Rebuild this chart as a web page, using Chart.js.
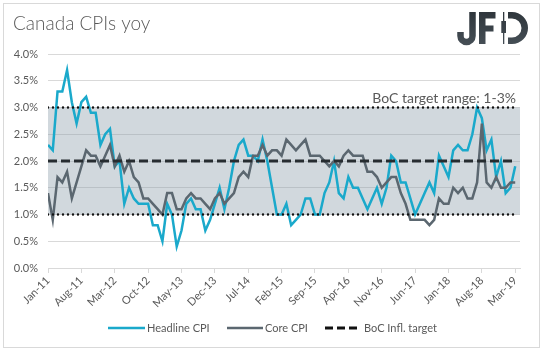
<!DOCTYPE html>
<html>
<head>
<meta charset="utf-8">
<script src="https://cdn.jsdelivr.net/npm/chart.js@4.4.0/dist/chart.umd.min.js"></script>
<style>
  html, body { margin: 0; padding: 0; background: #fff; }
  #wrap { width: 543px; height: 351px; }
</style>
</head>
<body>
<div id="wrap"><canvas id="myChart" width="543" height="351"></canvas></div>
<script>
// monthly labels Jan-11 .. Mar-19
var monthNames = ["Jan", "Feb", "Mar", "Apr", "May", "Jun", "Jul", "Aug", "Sep", "Oct", "Nov", "Dec"];
var months = [];
for (var yr = 11; yr <= 19; yr++) {
    for (var m = 0; m < 12; m++) {
        if (yr === 19 && m > 2) break;
        months.push(monthNames[m] + "-" + yr);
    }
}

// every 7th month gets a tick label
var tickIdx = [0, 7, 14, 21, 28, 35, 42, 49, 56, 63, 70, 77, 84, 91, 98];

// Headline CPI, % yoy
var headline = [
    2.3, 2.2, 3.3, 3.3, 3.7, 3.1, 2.7, 3.1, 3.2, 2.9, 2.9, 2.3,
    2.5, 2.6, 1.9, 2.0, 1.2, 1.5, 1.3, 1.2, 1.2, 1.2, 0.8, 0.8,
    0.5, 1.2, 1.0, 0.4, 0.7, 1.2, 1.3, 1.1, 1.1, 0.7, 0.9, 1.2,
    1.5, 1.1, 1.5, 2.0, 2.3, 2.4, 2.1, 2.1, 2.0, 2.4, 2.0, 1.5,
    1.0, 1.0, 1.2, 0.8, 0.9, 1.0, 1.3, 1.3, 1.0, 1.0, 1.4, 1.6,
    2.0, 1.4, 1.3, 1.7, 1.5, 1.5, 1.3, 1.1, 1.3, 1.5, 1.2, 1.5,
    2.1, 2.0, 1.6, 1.6, 1.3, 1.0, 1.2, 1.4, 1.6, 1.4, 2.1, 1.9,
    1.7, 2.2, 2.3, 2.2, 2.2, 2.5, 3.0, 2.8, 2.2, 2.4, 1.7, 2.0,
    1.4, 1.5, 1.9
];

// Core CPI, % yoy
var core = [
    1.4, 0.9, 1.7, 1.6, 1.8, 1.3, 1.6, 1.9, 2.2, 2.1, 2.1, 1.9,
    2.1, 2.3, 1.9, 2.1, 1.8, 2.0, 1.7, 1.6, 1.3, 1.3, 1.2, 1.1,
    1.0, 1.4, 1.4, 1.1, 1.1, 1.3, 1.4, 1.3, 1.3, 1.2, 1.1, 1.3,
    1.4, 1.2, 1.3, 1.4, 1.7, 1.8, 1.7, 2.1, 2.1, 2.3, 2.1, 2.2,
    2.2, 2.1, 2.4, 2.3, 2.2, 2.3, 2.4, 2.1, 2.1, 2.1, 2.0, 1.9,
    2.0, 1.9, 2.1, 2.2, 2.1, 2.1, 2.1, 1.8, 1.8, 1.7, 1.5, 1.6,
    1.7, 1.7, 1.4, 1.2, 0.9, 0.9, 0.9, 0.9, 0.8, 0.9, 1.3, 1.2,
    1.2, 1.5, 1.4, 1.5, 1.3, 1.3, 1.6, 2.7, 1.6, 1.5, 1.7, 1.5,
    1.5, 1.6, 1.6
];

// BoC inflation target and range
var target = 2.0;
var targetLow = 1.0;
var targetHigh = 3.0;

var fontFamily = "Lato, 'Open Sans', sans-serif";
var textColor = "#595959";

function points(values) {
    return values.map(function (v, i) { return { x: i, y: v }; });
}
function flat(value) {
    return months.map(function (_, i) { return { x: i, y: value }; });
}

// grey band between the range limits, drawn over the gridlines
var bandPlugin = {
    id: "band",
    beforeDatasetsDraw: function (chart) {
        var ctx = chart.ctx, a = chart.chartArea, y = chart.scales.y;
        var top = y.getPixelForValue(targetHigh);
        var bottom = y.getPixelForValue(targetLow);
        ctx.save();
        ctx.fillStyle = "rgba(140, 158, 170, 0.4)";
        ctx.fillRect(a.left, top, a.right - a.left, bottom - top);
        ctx.restore();
    }
};

// JFD logo, drawn as plain shapes
function drawLogo(ctx) {
    var grad = ctx.createLinearGradient(0, 12, 0, 44);
    grad.addColorStop(0, "#2F363C");
    grad.addColorStop(1, "#454E55");
    ctx.save();
    ctx.strokeStyle = grad;
    ctx.fillStyle = grad;
    ctx.lineWidth = 6.5;
    ctx.lineCap = "butt";
    // J
    ctx.beginPath();
    ctx.moveTo(472.5, 12);
    ctx.lineTo(472.5, 36);
    ctx.arc(466.5, 36, 6, 0, Math.PI);
    ctx.lineTo(460.5, 32);
    ctx.stroke();
    // F
    ctx.fillRect(479, 12, 6.5, 32);
    ctx.fillRect(479, 12, 16.5, 6.5);
    ctx.fillRect(479, 25.5, 14.5, 6);
    // candle stem of the D
    ctx.fillRect(503, 12, 1.3, 32);
    ctx.fillRect(501.3, 21, 4.7, 12);
    // bowl of the D
    ctx.beginPath();
    ctx.moveTo(508, 15.25);
    ctx.lineTo(512, 15.25);
    ctx.arc(512, 28, 12.75, -Math.PI / 2, Math.PI / 2);
    ctx.lineTo(508, 40.75);
    ctx.stroke();
    ctx.restore();
}

// title, logo, note, legend and frame
var overlayPlugin = {
    id: "overlay",
    afterDraw: function (chart) {
        var ctx = chart.ctx;
        ctx.save();

        // frame
        ctx.strokeStyle = "#D9D9D9";
        ctx.lineWidth = 1;
        ctx.strokeRect(3.5, 3.5, 536, 344);

        // title
        ctx.fillStyle = textColor;
        ctx.font = "300 19px " + fontFamily;
        ctx.textBaseline = "alphabetic";
        ctx.textAlign = "left";
        ctx.fillText("Canada CPIs yoy", 13, 30);

        drawLogo(ctx);

        // target range note
        ctx.fillStyle = textColor;
        ctx.font = "14px " + fontFamily;
        ctx.textAlign = "right";
        ctx.fillText("BoC target range: 1-3%", 516, 103);

        // legend
        var ly = 328;
        ctx.font = "11px " + fontFamily;
        ctx.textAlign = "left";
        ctx.textBaseline = "middle";
        var items = [
            { x0: 108, x1: 145, tx: 147, text: "Headline CPI", color: "#1AA9CB", width: 2.5, dash: [] },
            { x0: 227, x1: 263, tx: 265, text: "Core CPI", color: "#5B6770", width: 2.5, dash: [] },
            { x0: 325, x1: 358, tx: 364, text: "BoC Infl. target", color: "#111111", width: 3, dash: [8, 4] }
        ];
        items.forEach(function (it) {
            ctx.strokeStyle = it.color;
            ctx.lineWidth = it.width;
            ctx.setLineDash(it.dash);
            ctx.beginPath();
            ctx.moveTo(it.x0, ly);
            ctx.lineTo(it.x1, ly);
            ctx.stroke();
            ctx.setLineDash([]);
            ctx.fillStyle = textColor;
            ctx.fillText(it.text, it.tx, ly);
        });

        ctx.restore();
    }
};

var ctx = document.getElementById("myChart").getContext("2d");
var myChart = new Chart(ctx, {
    type: "line",
    data: {
        datasets: [
            {
                label: "Headline CPI",
                data: points(headline),
                borderColor: "#1AA9CB",
                borderWidth: 2.5,
                order: 4
            },
            {
                label: "Core CPI",
                data: points(core),
                borderColor: "#5B6770",
                borderWidth: 2.5,
                order: 3
            },
            {
                label: "BoC Infl. target",
                data: flat(target),
                borderColor: "#262C30",
                borderWidth: 3,
                borderDash: [9, 4],
                order: 1
            },
            {
                label: "range high",
                data: flat(targetHigh),
                borderColor: "#111111",
                borderWidth: 2.4,
                borderDash: [0, 5],
                borderCapStyle: "round",
                order: 2
            },
            {
                label: "range low",
                data: flat(targetLow),
                borderColor: "#111111",
                borderWidth: 2.4,
                borderDash: [0, 5],
                borderCapStyle: "round",
                order: 2
            }
        ]
    },
    options: {
        responsive: false,
        animation: false,
        layout: { padding: { top: 54, right: 23, left: 0, bottom: 0 } },
        elements: {
            point: { radius: 0 },
            line: { tension: 0, fill: false }
        },
        plugins: {
            legend: { display: false },
            tooltip: { enabled: false }
        },
        scales: {
            x: {
                type: "linear",
                min: 0,
                max: 99,
                afterBuildTicks: function (axis) {
                    axis.ticks = tickIdx.map(function (v) { return { value: v }; });
                },
                afterFit: function (axis) { axis.height = 83; },
                grid: { display: true, drawOnChartArea: false, drawTicks: true, tickLength: 5, color: "#D9D9D9" },
                border: { display: true, color: "#D9D9D9" },
                ticks: {
                    autoSkip: false,
                    minRotation: 45,
                    maxRotation: 45,
                    padding: 1,
                    color: textColor,
                    font: { family: fontFamily, size: 11 },
                    callback: function (v) { return months[v]; }
                }
            },
            y: {
                min: 0,
                max: 4,
                afterFit: function (axis) { axis.width = 48; },
                grid: { color: "#D9D9D9", drawTicks: false },
                border: { display: false },
                ticks: {
                    stepSize: 0.5,
                    padding: 10,
                    color: textColor,
                    font: { family: fontFamily, size: 11 },
                    callback: function (v) { return v.toFixed(1) + "%"; }
                }
            }
        }
    },
    plugins: [bandPlugin, overlayPlugin]
});
</script>
</body>
</html>
